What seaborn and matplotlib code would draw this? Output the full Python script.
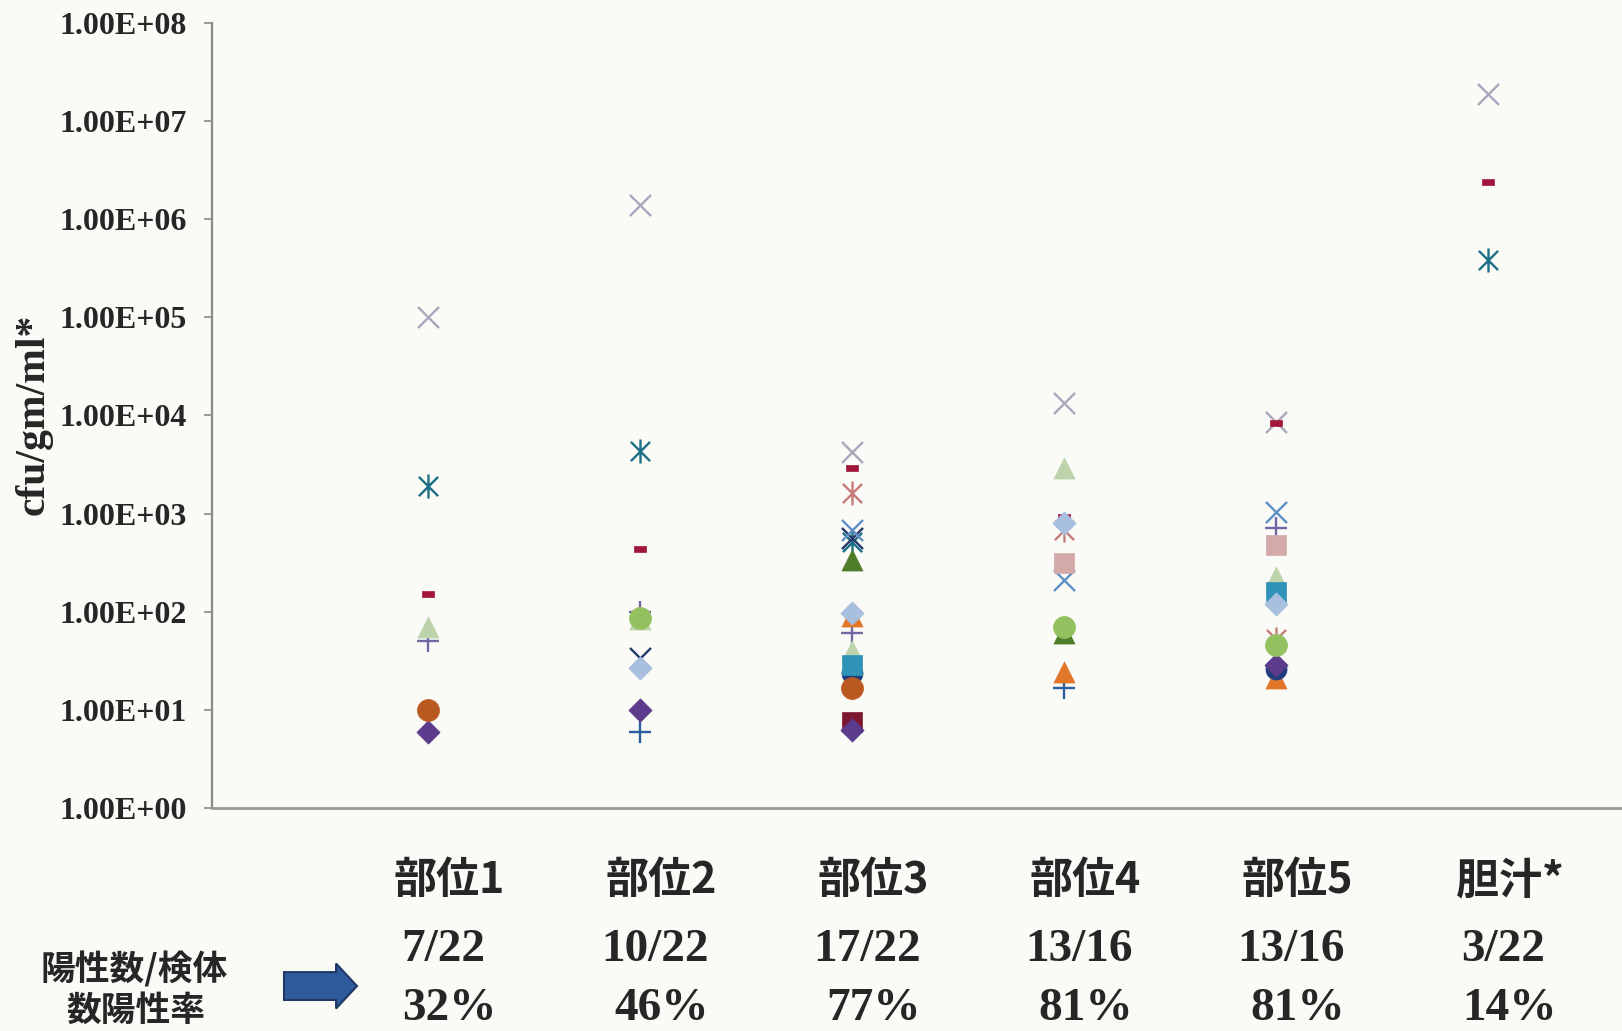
import numpy as np
import matplotlib
matplotlib.use("Agg")
import matplotlib.pyplot as plt
import matplotlib.transforms as mtransforms
from matplotlib.path import Path
from matplotlib.patches import FancyArrow
import seaborn as sns

# Datos (cfu/gm/ml), una lista por serie
categorias = ['部位1', '部位2', '部位3', '部位4', '部位5', '胆汁*']
positivos = ['7/22', '10/22', '17/22', '13/16', '13/16', '3/22']
tasa = ['32%', '46%', '77%', '81%', '81%', '14%']
nan = np.nan

gris_x = [1.0e5, 1.4e6, 4250, 13300, 8600, 1.9e7]
teal_ast = [1900, 4300, 516, nan, nan, 3.8e5]
salmon_ast = [nan, nan, 1630, 680, 53, nan]
rojo_guion = [150, 440, 2900, 930, 8300, 2.4e6]
azul_oscuro_x = [nan, 34, 560, nan, nan, nan]
azul_x = [nan, nan, 680, 210, 1040, nan]
morado_mas = [50, 100, 60, nan, 710, nan]
azul_mas = [nan, 6, nan, 16.5, nan, nan]
verde_osc_tri = [nan, nan, 335, 60, nan, nan]
verde_cl_tri = [70, 85, 40, 2900, 227, nan]
naranja_tri = [nan, nan, 90, 24.5, 21, nan]
azul_osc_circ = [nan, nan, 23.6, nan, 26, nan]
teal_cuad = [nan, nan, 28.5, nan, 160, nan]
celeste_diam = [nan, 26.5, 96, 795, 121, nan]
rosa_cuad = [nan, nan, nan, 310, 477, nan]
granate_cuad = [nan, nan, 7.5, nan, nan, nan]
morado_diam = [5.9, 10, 6.2, nan, 28.5, nan]
marron_circ = [10, nan, 16.5, nan, nan, nan]
verde_circ = [nan, 87, nan, 70, 45.6, nan]

yticks = [1e0, 1e1, 1e2, 1e3, 1e4, 1e5, 1e6, 1e7, 1e8]
ytick_labels = ['1.00E+00', '1.00E+01', '1.00E+02', '1.00E+03', '1.00E+04',
                '1.00E+05', '1.00E+06', '1.00E+07', '1.00E+08']

# Marcadores especiales
asterisco = Path([(0, -1), (0, 1), (-0.8, -0.8), (0.8, 0.8), (-0.8, 0.8), (0.8, -0.8)],
                 [Path.MOVETO, Path.LINETO, Path.MOVETO, Path.LINETO, Path.MOVETO, Path.LINETO])
guion = [(-1, -0.45), (1, -0.45), (1, 0.45), (-1, 0.45), (-1, -0.45)]

# (valores, marcador, color, tamaño) en orden de dibujo
series = [
    (gris_x, 'x', '#a8a8bc', 230),
    (teal_ast, asterisco, '#1d6f87', 300),
    (salmon_ast, asterisco, '#c67c78', 300),
    (rojo_guion, guion, '#a3163b', 80),
    (azul_oscuro_x, 'x', '#283a6b', 230),
    (azul_x, 'x', '#5e8fc6', 230),
    (morado_mas, '+', '#6f6aa5', 230),
    (azul_mas, '+', '#2c5d9d', 230),
    (verde_osc_tri, '^', '#4d7d28', 230),
    (verde_cl_tri, '^', '#bdd3ab', 230),
    (naranja_tri, '^', '#e2772a', 230),
    (azul_osc_circ, 'o', '#1f3d7c', 230),
    (teal_cuad, 's', '#2f93b8', 200),
    (celeste_diam, 'D', '#a9bfe0', 140),
    (rosa_cuad, 's', '#d3a9aa', 200),
    (granate_cuad, 's', '#7b1830', 200),
    (morado_diam, 'D', '#5c3a8c', 140),
    (marron_circ, 'o', '#b9581f', 250),
    (verde_circ, 'o', '#93c160', 250),
]

sns.set_style('white')
fondo = '#fafaf6'
fig = plt.figure(figsize=(16.22, 10.31), dpi=100, facecolor=fondo)
ax = fig.add_axes([0.1307, 0.2163, 0.8693, 0.7616])
ax.set_facecolor(fondo)

x = np.arange(len(categorias))
for i, (vals, marker, color, size) in enumerate(series):
    lineart = marker in ('x', '+') or marker is asterisco
    sns.scatterplot(x=x, y=np.array(vals, dtype=float), marker=marker, color=color,
                    s=size, ax=ax, zorder=3 + i,
                    edgecolor=color if not lineart else None,
                    linewidth=1.7 if lineart else 0.5)

ax.set_yscale('log')
ax.set_ylim(1, 1e8)
ax.set_xlim(-1.02, 5.63)
ax.set_yticks(yticks)
ax.set_yticklabels(ytick_labels, fontfamily='Liberation Serif', fontweight='bold', fontsize=23)
ax.minorticks_off()
ax.set_xticks([])
ax.set_xlabel('')
ax.set_ylabel('')
ax.tick_params(axis='y', direction='out', length=6, width=1.2, color='#8a8a8a', pad=12, left=True)
for s in ['top', 'right']:
    ax.spines[s].set_visible(False)
ax.spines['left'].set_color('#8a8a8a')
ax.spines['left'].set_linewidth(1.6)
ax.spines['bottom'].set_color('#9a9a9a')
ax.spines['bottom'].set_linewidth(2.0)

fig.text(0.021, 0.598, 'cfu/gm/ml*', rotation=90, ha='center', va='center',
         fontfamily='Liberation Serif', fontweight='bold', fontsize=30)

# Textos bajo el eje
trans = mtransforms.blended_transform_factory(ax.transData, fig.transFigure)
cjk = ['Noto Sans CJK JP', 'DejaVu Sans']
for i in range(len(categorias)):
    ax.text(i + 0.1, 0.1465, categorias[i], transform=trans, ha='center', va='center',
            fontfamily=cjk, fontweight='bold', fontsize=31, clip_on=False)
    ax.text(i + 0.07, 0.0786, positivos[i], transform=trans, ha='center', va='center',
            fontfamily='Liberation Serif', fontweight='bold', fontsize=34, clip_on=False)
    ax.text(i + 0.1, 0.0217, tasa[i], transform=trans, ha='center', va='center',
            fontfamily='Liberation Serif', fontweight='bold', fontsize=34, clip_on=False)

fig.text(0.083, 0.060, '陽性数/検体', ha='center', va='center',
         fontfamily=cjk, fontweight='bold', fontsize=25)
fig.text(0.084, 0.0198, '数陽性率', ha='center', va='center',
         fontfamily=cjk, fontweight='bold', fontsize=25)

flecha = FancyArrow(0.1751, 0.0436, 0.045, 0, width=0.027, head_width=0.0436,
                    head_length=0.0129, length_includes_head=True,
                    facecolor='#2f5a9c', edgecolor='#1f3864', linewidth=1.5,
                    transform=fig.transFigure)
fig.add_artist(flecha)

plt.savefig('out.png', dpi=100, facecolor=fondo)
plt.close()
